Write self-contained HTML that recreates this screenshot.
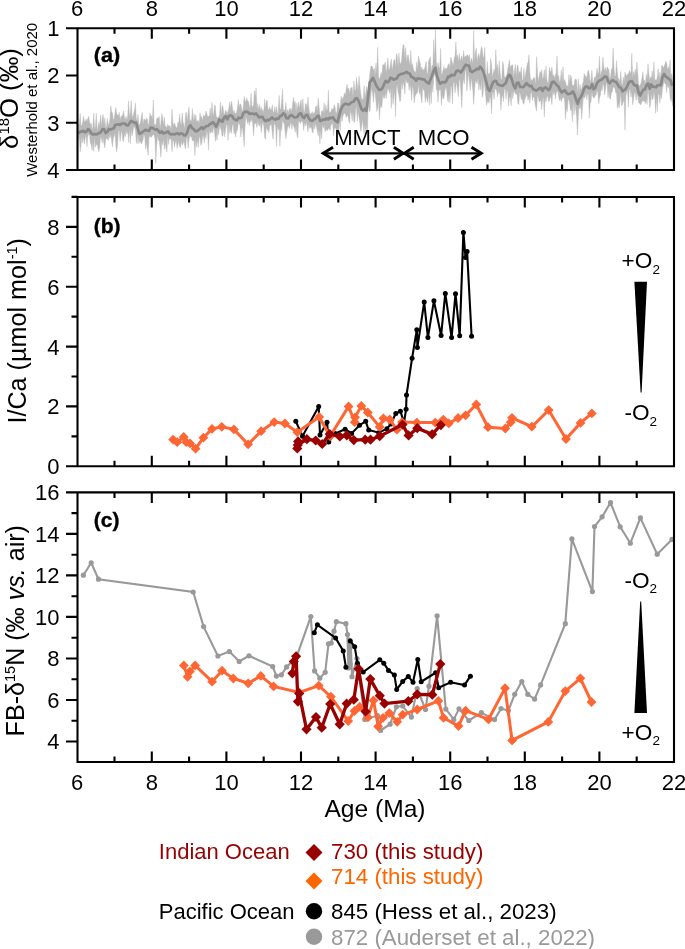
<!DOCTYPE html><html><head><meta charset="utf-8"><title>fig</title>
<style>html,body{margin:0;padding:0;background:#fff}svg{display:block;will-change:transform}text{font-family:"Liberation Sans",sans-serif}</style></head><body>
<svg width="685" height="949" viewBox="0 0 685 949">
<rect width="685" height="949" fill="#fff"/>
<path fill="#b9b9b9" stroke="#b9b9b9" stroke-width="0.4" stroke-linejoin="round" d="M78.5,124.6 L79.3,124.0 L80.2,113.5 L81.0,125.6 L81.9,125.8 L82.7,122.1 L83.6,116.2 L84.4,121.5 L85.3,121.4 L86.1,119.0 L87.0,121.7 L87.8,118.4 L88.7,116.3 L89.5,121.8 L90.4,124.3 L91.2,123.3 L92.1,130.0 L92.9,126.2 L93.8,113.2 L94.6,129.0 L95.5,126.3 L96.3,113.4 L97.2,131.2 L98.0,126.9 L98.9,122.1 L99.7,125.8 L100.6,114.9 L101.4,126.2 L102.3,117.6 L103.1,114.3 L104.0,125.1 L104.8,117.8 L105.7,128.3 L106.5,126.3 L107.4,118.3 L108.2,125.3 L109.1,123.6 L109.9,119.1 L110.8,105.8 L111.6,111.5 L112.5,113.0 L113.3,119.7 L114.2,118.6 L115.0,112.7 L115.9,107.4 L116.7,114.0 L117.6,114.8 L118.4,115.7 L119.3,112.4 L120.1,119.7 L121.0,116.4 L121.8,116.0 L122.7,114.9 L123.5,110.9 L124.4,117.0 L125.2,119.2 L126.1,116.4 L126.9,120.4 L127.8,114.9 L128.6,101.0 L129.5,117.2 L130.3,112.8 L131.2,100.7 L132.0,115.1 L132.9,117.2 L133.7,113.4 L134.6,109.3 L135.4,103.1 L136.3,118.8 L137.1,120.9 L138.0,114.3 L138.8,124.1 L139.7,125.0 L140.5,122.0 L141.4,116.3 L142.2,112.2 L143.1,125.0 L143.9,119.0 L144.8,119.3 L145.6,120.8 L146.5,118.2 L147.3,118.8 L148.2,125.8 L149.0,122.8 L149.9,112.9 L150.7,116.1 L151.6,115.7 L152.4,120.8 L153.3,100.0 L154.1,123.7 L155.0,124.8 L155.8,125.3 L156.7,119.0 L157.5,117.6 L158.4,119.0 L159.2,116.4 L160.1,128.6 L160.9,123.0 L161.8,113.5 L162.6,117.4 L163.5,125.5 L164.3,117.0 L165.2,126.3 L166.0,126.5 L166.9,127.4 L167.7,124.3 L168.6,126.1 L169.4,125.7 L170.3,126.8 L171.1,130.1 L172.0,109.2 L172.8,122.0 L173.7,125.9 L174.5,123.0 L175.4,125.7 L176.2,127.8 L177.1,127.8 L177.9,122.1 L178.8,123.0 L179.6,114.2 L180.5,123.5 L181.3,124.8 L182.2,113.0 L183.0,122.1 L183.9,124.4 L184.7,128.7 L185.6,113.4 L186.4,112.2 L187.3,121.8 L188.1,113.0 L189.0,107.1 L189.8,120.4 L190.7,120.2 L191.5,120.9 L192.4,108.6 L193.2,121.9 L194.1,113.8 L194.9,120.5 L195.8,114.8 L196.6,121.7 L197.5,120.7 L198.3,120.4 L199.2,123.4 L200.0,112.7 L200.9,117.8 L201.7,116.5 L202.6,121.0 L203.4,114.8 L204.3,116.2 L205.1,116.1 L206.0,111.0 L206.8,114.0 L207.7,116.5 L208.5,116.4 L209.4,115.5 L210.2,108.1 L211.1,117.4 L211.9,102.3 L212.8,112.3 L213.6,116.7 L214.5,105.7 L215.3,105.4 L216.2,116.3 L217.0,117.6 L217.9,117.8 L218.7,117.1 L219.6,114.4 L220.4,101.9 L221.3,115.3 L222.1,105.2 L223.0,107.2 L223.8,113.6 L224.7,114.2 L225.5,110.0 L226.4,111.6 L227.2,113.4 L228.1,111.1 L228.9,107.7 L229.8,101.8 L230.6,108.6 L231.5,101.1 L232.3,105.9 L233.2,112.9 L234.0,110.4 L234.9,113.1 L235.7,113.8 L236.6,112.5 L237.4,108.3 L238.3,99.7 L239.1,107.9 L240.0,103.8 L240.8,104.3 L241.7,108.6 L242.5,112.4 L243.4,105.0 L244.2,96.4 L245.1,100.5 L245.9,102.6 L246.8,97.9 L247.6,101.1 L248.5,101.2 L249.3,105.6 L250.2,108.8 L251.0,93.0 L251.9,106.1 L252.7,107.1 L253.6,104.5 L254.4,90.6 L255.3,96.1 L256.1,88.0 L257.0,109.1 L257.8,103.5 L258.7,110.2 L259.5,104.5 L260.4,110.7 L261.2,106.8 L262.1,111.6 L262.9,109.2 L263.8,112.7 L264.6,98.9 L265.5,108.3 L266.3,100.6 L267.2,100.4 L268.0,109.0 L268.9,110.1 L269.7,106.8 L270.6,109.9 L271.4,109.7 L272.3,104.8 L273.1,112.3 L274.0,112.6 L274.8,106.5 L275.7,113.1 L276.5,106.5 L277.4,113.6 L278.2,112.2 L279.1,95.3 L279.9,108.6 L280.8,109.8 L281.6,101.1 L282.5,89.1 L283.3,109.2 L284.2,110.3 L285.0,110.3 L285.9,102.5 L286.7,113.2 L287.6,109.6 L288.4,113.2 L289.3,108.4 L290.1,110.4 L291.0,108.2 L291.8,112.0 L292.7,102.9 L293.5,97.4 L294.4,103.7 L295.2,101.5 L296.1,112.3 L296.9,102.9 L297.8,109.7 L298.6,102.1 L299.5,108.8 L300.3,102.4 L301.2,99.8 L302.0,110.0 L302.9,98.5 L303.7,110.8 L304.6,112.3 L305.4,103.5 L306.3,104.1 L307.1,107.8 L308.0,96.9 L308.8,107.8 L309.7,112.7 L310.5,114.0 L311.4,113.6 L312.2,111.6 L313.1,114.6 L313.9,112.4 L314.8,113.1 L315.6,106.5 L316.5,106.0 L317.3,110.9 L318.2,97.9 L319.0,106.0 L319.9,114.5 L320.7,117.5 L321.6,111.1 L322.4,110.4 L323.3,113.0 L324.1,102.7 L325.0,113.2 L325.8,104.5 L326.7,109.9 L327.5,109.9 L328.4,90.1 L329.2,112.3 L330.1,112.2 L330.9,112.1 L331.8,108.4 L332.6,109.6 L333.5,108.5 L334.3,104.4 L335.2,108.0 L336.0,114.2 L336.9,111.5 L337.7,102.9 L338.6,103.2 L339.4,109.3 L340.3,104.7 L341.1,96.2 L342.0,99.7 L342.8,97.9 L343.7,96.4 L344.5,92.9 L345.4,95.2 L346.2,88.8 L347.1,84.3 L347.9,89.5 L348.8,87.9 L349.6,93.8 L350.5,88.5 L351.3,87.5 L352.2,87.4 L353.0,96.9 L353.9,80.9 L354.7,89.5 L355.6,91.1 L356.4,77.3 L357.3,84.6 L358.1,90.7 L359.0,75.8 L359.8,85.2 L360.7,93.1 L361.5,98.2 L362.4,99.6 L363.2,99.4 L364.1,85.7 L364.9,98.3 L365.8,92.8 L366.6,86.6 L367.5,94.0 L368.3,87.4 L369.2,79.9 L370.0,72.1 L370.9,66.2 L371.7,66.1 L372.6,66.7 L373.4,70.8 L374.3,68.3 L375.1,75.7 L376.0,63.1 L376.8,73.2 L377.7,47.2 L378.5,76.1 L379.4,79.5 L380.2,77.1 L381.1,72.4 L381.9,76.1 L382.8,64.3 L383.6,65.0 L384.5,64.5 L385.3,61.9 L386.2,73.3 L387.0,67.0 L387.9,57.9 L388.7,69.4 L389.6,69.5 L390.4,64.0 L391.3,59.1 L392.1,70.3 L393.0,65.3 L393.8,60.1 L394.7,59.4 L395.5,67.1 L396.4,53.5 L397.2,55.8 L398.1,67.4 L398.9,53.1 L399.8,62.8 L400.6,64.0 L401.5,60.9 L402.3,51.1 L403.2,44.5 L404.0,45.5 L404.9,59.3 L405.7,47.7 L406.6,63.6 L407.4,55.5 L408.3,54.9 L409.1,61.0 L410.0,65.2 L410.8,50.2 L411.7,66.4 L412.5,63.7 L413.4,69.0 L414.2,71.0 L415.1,72.4 L415.9,71.2 L416.8,61.9 L417.6,69.7 L418.5,56.0 L419.3,59.7 L420.2,62.9 L421.0,69.9 L421.9,67.1 L422.7,70.4 L423.6,69.5 L424.4,69.2 L425.3,65.8 L426.1,61.5 L427.0,73.7 L427.8,73.3 L428.7,60.4 L429.5,59.1 L430.4,56.8 L431.2,72.1 L432.1,65.2 L432.9,65.3 L433.8,39.7 L434.6,60.8 L435.5,30.0 L436.3,60.8 L437.2,69.0 L438.0,62.5 L438.9,67.3 L439.7,68.5 L440.6,48.4 L441.4,74.7 L442.3,73.5 L443.1,70.1 L444.0,66.5 L444.8,70.8 L445.7,67.9 L446.5,68.7 L447.4,67.4 L448.2,64.2 L449.1,63.7 L449.9,68.0 L450.8,57.1 L451.6,60.0 L452.5,63.4 L453.3,65.4 L454.2,58.5 L455.0,55.9 L455.9,42.0 L456.7,57.8 L457.6,55.1 L458.4,62.2 L459.3,53.3 L460.1,61.0 L461.0,58.4 L461.8,55.8 L462.7,61.8 L463.5,50.5 L464.4,57.9 L465.2,55.8 L466.1,57.3 L466.9,55.1 L467.8,55.1 L468.6,57.3 L469.5,54.6 L470.3,64.0 L471.2,58.2 L472.0,59.7 L472.9,64.0 L473.7,30.7 L474.6,62.2 L475.4,52.2 L476.3,47.9 L477.1,62.2 L478.0,56.3 L478.8,53.7 L479.7,59.1 L480.5,52.2 L481.4,46.4 L482.2,48.9 L483.1,57.3 L483.9,57.3 L484.8,47.3 L485.6,73.5 L486.5,76.0 L487.3,61.5 L488.2,75.1 L489.0,72.9 L489.9,74.0 L490.7,58.3 L491.6,64.7 L492.4,77.0 L493.3,73.2 L494.1,69.2 L495.0,72.0 L495.8,49.5 L496.7,69.0 L497.5,64.5 L498.4,76.7 L499.2,60.7 L500.1,72.6 L500.9,78.9 L501.8,79.5 L502.6,61.4 L503.5,64.4 L504.3,77.0 L505.2,77.2 L506.0,76.4 L506.9,74.2 L507.7,69.1 L508.6,64.2 L509.4,59.7 L510.3,68.4 L511.1,65.5 L512.0,65.2 L512.8,64.8 L513.7,77.8 L514.5,70.6 L515.4,64.3 L516.2,77.6 L517.1,66.7 L517.9,64.8 L518.8,73.9 L519.6,71.4 L520.5,72.7 L521.3,66.8 L522.2,79.9 L523.0,80.2 L523.9,68.3 L524.7,79.6 L525.6,73.5 L526.4,69.3 L527.3,63.7 L528.1,62.1 L529.0,54.8 L529.8,71.8 L530.7,81.0 L531.5,79.5 L532.4,81.0 L533.2,78.4 L534.1,77.2 L534.9,79.1 L535.8,84.1 L536.6,56.6 L537.5,72.6 L538.3,81.3 L539.2,76.5 L540.0,71.5 L540.9,73.3 L541.7,69.6 L542.6,80.1 L543.4,76.9 L544.3,69.5 L545.1,80.6 L546.0,66.2 L546.8,78.8 L547.7,83.4 L548.5,81.5 L549.4,67.3 L550.2,70.5 L551.1,72.4 L551.9,67.1 L552.8,76.3 L553.6,74.7 L554.5,77.7 L555.3,75.7 L556.2,72.4 L557.0,56.1 L557.9,76.9 L558.7,75.5 L559.6,82.4 L560.4,79.9 L561.3,69.9 L562.1,82.4 L563.0,66.6 L563.8,82.0 L564.7,79.5 L565.5,81.8 L566.4,85.8 L567.2,85.6 L568.1,87.1 L568.9,74.5 L569.8,82.7 L570.6,75.2 L571.5,77.7 L572.3,85.8 L573.2,85.0 L574.0,85.9 L574.9,79.4 L575.7,79.0 L576.6,79.9 L577.4,94.9 L578.3,78.6 L579.1,92.7 L580.0,84.2 L580.8,89.8 L581.7,88.7 L582.5,84.0 L583.4,81.6 L584.2,73.3 L585.1,77.1 L585.9,75.6 L586.8,78.8 L587.6,72.1 L588.5,70.0 L589.3,74.3 L590.2,82.3 L591.0,80.1 L591.9,70.1 L592.7,81.7 L593.6,82.4 L594.4,77.0 L595.3,77.9 L596.1,75.0 L597.0,68.1 L597.8,73.4 L598.7,73.1 L599.5,56.1 L600.4,76.3 L601.2,72.8 L602.1,69.5 L602.9,57.2 L603.8,67.0 L604.6,70.9 L605.5,67.4 L606.3,72.0 L607.2,66.8 L608.0,68.3 L608.9,70.0 L609.7,78.3 L610.6,77.2 L611.4,68.8 L612.3,69.6 L613.1,48.2 L614.0,67.4 L614.8,77.1 L615.7,74.9 L616.5,60.7 L617.4,73.1 L618.2,78.1 L619.1,79.6 L619.9,82.1 L620.8,71.4 L621.6,83.1 L622.5,85.5 L623.3,77.0 L624.2,81.6 L625.0,72.1 L625.9,75.0 L626.7,75.9 L627.6,73.9 L628.4,74.3 L629.3,70.6 L630.1,71.9 L631.0,73.8 L631.8,53.4 L632.7,78.2 L633.5,71.6 L634.4,76.3 L635.2,69.1 L636.1,74.2 L636.9,62.0 L637.8,74.0 L638.6,84.4 L639.5,86.0 L640.3,85.1 L641.2,82.3 L642.0,77.8 L642.9,71.7 L643.7,80.4 L644.6,80.3 L645.4,83.9 L646.3,74.2 L647.1,79.1 L648.0,63.6 L648.8,73.2 L649.7,80.7 L650.5,76.9 L651.4,78.7 L652.2,70.9 L653.1,79.7 L653.9,61.7 L654.8,80.2 L655.6,79.7 L656.5,80.3 L657.3,76.8 L658.2,68.5 L659.0,79.5 L659.9,72.1 L660.7,78.7 L661.6,65.8 L662.4,65.4 L663.3,67.7 L664.1,66.4 L665.0,64.1 L665.8,61.1 L666.7,63.3 L667.5,70.0 L668.4,66.7 L669.2,70.2 L670.1,59.8 L670.9,75.7 L671.8,73.5 L672.6,82.2 L673.5,69.9 L673.5,94.9 L672.6,106.1 L671.8,97.9 L670.9,101.4 L670.1,97.9 L669.2,85.7 L668.4,87.7 L667.5,83.8 L666.7,92.6 L665.8,84.0 L665.0,83.7 L664.1,81.6 L663.3,85.0 L662.4,89.1 L661.6,98.8 L660.7,93.4 L659.9,103.2 L659.0,94.3 L658.2,94.0 L657.3,111.8 L656.5,97.8 L655.6,113.4 L654.8,97.7 L653.9,91.6 L653.1,98.8 L652.2,99.8 L651.4,93.4 L650.5,104.6 L649.7,107.8 L648.8,95.4 L648.0,89.7 L647.1,104.5 L646.3,98.9 L645.4,103.6 L644.6,101.8 L643.7,100.9 L642.9,100.5 L642.0,101.8 L641.2,103.7 L640.3,105.0 L639.5,103.2 L638.6,102.8 L637.8,97.6 L636.9,93.3 L636.1,100.5 L635.2,92.7 L634.4,92.8 L633.5,100.0 L632.7,104.9 L631.8,91.4 L631.0,97.0 L630.1,88.4 L629.3,91.0 L628.4,107.1 L627.6,91.5 L626.7,92.5 L625.9,95.8 L625.0,130.2 L624.2,100.4 L623.3,101.6 L622.5,104.6 L621.6,106.1 L620.8,92.9 L619.9,102.4 L619.1,108.0 L618.2,103.2 L617.4,108.4 L616.5,92.7 L615.7,92.9 L614.8,87.7 L614.0,87.4 L613.1,86.9 L612.3,92.1 L611.4,92.2 L610.6,98.7 L609.7,98.8 L608.9,89.8 L608.0,97.7 L607.2,85.6 L606.3,82.0 L605.5,89.7 L604.6,95.0 L603.8,85.4 L602.9,83.9 L602.1,90.7 L601.2,88.7 L600.4,95.0 L599.5,98.2 L598.7,103.8 L597.8,92.2 L597.0,90.4 L596.1,95.2 L595.3,95.3 L594.4,97.9 L593.6,98.0 L592.7,96.3 L591.9,91.9 L591.0,101.8 L590.2,103.2 L589.3,118.0 L588.5,94.4 L587.6,94.1 L586.8,99.9 L585.9,92.9 L585.1,96.7 L584.2,98.4 L583.4,97.1 L582.5,107.4 L581.7,119.4 L580.8,104.1 L580.0,109.0 L579.1,106.2 L578.3,116.8 L577.4,135.0 L576.6,116.1 L575.7,109.4 L574.9,102.8 L574.0,115.1 L573.2,98.5 L572.3,121.8 L571.5,107.9 L570.6,110.9 L569.8,104.6 L568.9,99.5 L568.1,100.0 L567.2,111.7 L566.4,107.8 L565.5,119.2 L564.7,102.0 L563.8,96.5 L563.0,98.1 L562.1,98.4 L561.3,101.8 L560.4,98.2 L559.6,100.7 L558.7,97.2 L557.9,91.7 L557.0,91.1 L556.2,93.5 L555.3,99.2 L554.5,90.9 L553.6,94.6 L552.8,91.6 L551.9,104.7 L551.1,98.3 L550.2,96.3 L549.4,100.8 L548.5,101.7 L547.7,95.7 L546.8,96.8 L546.0,101.9 L545.1,97.6 L544.3,117.1 L543.4,96.6 L542.6,100.1 L541.7,109.6 L540.9,100.0 L540.0,101.5 L539.2,101.9 L538.3,97.6 L537.5,94.8 L536.6,111.0 L535.8,107.8 L534.9,102.9 L534.1,96.7 L533.2,96.9 L532.4,100.8 L531.5,91.6 L530.7,93.8 L529.8,103.1 L529.0,96.8 L528.1,100.2 L527.3,95.9 L526.4,94.8 L525.6,97.6 L524.7,99.4 L523.9,104.3 L523.0,103.0 L522.2,98.5 L521.3,99.7 L520.5,94.8 L519.6,92.0 L518.8,104.6 L517.9,103.6 L517.1,95.6 L516.2,93.3 L515.4,94.2 L514.5,91.5 L513.7,91.9 L512.8,98.7 L512.0,90.0 L511.1,105.8 L510.3,96.5 L509.4,97.8 L508.6,106.3 L507.7,92.1 L506.9,89.9 L506.0,99.4 L505.2,88.7 L504.3,89.4 L503.5,101.7 L502.6,94.5 L501.8,97.8 L500.9,109.9 L500.1,94.8 L499.2,92.6 L498.4,91.8 L497.5,96.7 L496.7,90.8 L495.8,89.3 L495.0,88.4 L494.1,99.5 L493.3,92.2 L492.4,93.0 L491.6,113.7 L490.7,98.4 L489.9,96.5 L489.0,103.3 L488.2,100.8 L487.3,102.5 L486.5,105.2 L485.6,95.1 L484.8,87.9 L483.9,78.8 L483.1,94.2 L482.2,97.4 L481.4,80.0 L480.5,89.9 L479.7,82.8 L478.8,90.3 L478.0,77.6 L477.1,83.8 L476.3,81.6 L475.4,80.7 L474.6,89.6 L473.7,104.4 L472.9,91.0 L472.0,83.0 L471.2,78.3 L470.3,90.5 L469.5,83.4 L468.6,72.9 L467.8,79.8 L466.9,91.1 L466.1,71.2 L465.2,70.7 L464.4,84.0 L463.5,78.4 L462.7,84.8 L461.8,107.7 L461.0,93.1 L460.1,80.7 L459.3,79.2 L458.4,96.7 L457.6,91.0 L456.7,82.4 L455.9,86.3 L455.0,93.0 L454.2,82.3 L453.3,83.1 L452.5,103.9 L451.6,85.9 L450.8,86.5 L449.9,102.7 L449.1,93.5 L448.2,102.0 L447.4,99.3 L446.5,88.4 L445.7,87.7 L444.8,91.6 L444.0,98.0 L443.1,99.1 L442.3,94.3 L441.4,105.7 L440.6,89.6 L439.7,90.0 L438.9,90.6 L438.0,102.2 L437.2,90.3 L436.3,89.8 L435.5,76.0 L434.6,74.3 L433.8,77.1 L432.9,92.2 L432.1,83.2 L431.2,103.7 L430.4,88.8 L429.5,105.1 L428.7,91.2 L427.8,102.4 L427.0,98.9 L426.1,95.9 L425.3,102.4 L424.4,90.9 L423.6,90.3 L422.7,87.3 L421.9,103.1 L421.0,97.6 L420.2,90.7 L419.3,94.3 L418.5,84.0 L417.6,92.3 L416.8,93.3 L415.9,94.6 L415.1,96.0 L414.2,103.0 L413.4,90.3 L412.5,84.9 L411.7,100.5 L410.8,89.2 L410.0,84.2 L409.1,90.4 L408.3,81.5 L407.4,83.3 L406.6,82.1 L405.7,79.0 L404.9,94.3 L404.0,85.7 L403.2,81.6 L402.3,89.1 L401.5,81.8 L400.6,100.7 L399.8,101.6 L398.9,95.4 L398.1,92.6 L397.2,84.4 L396.4,88.3 L395.5,116.8 L394.7,90.3 L393.8,97.7 L393.0,104.4 L392.1,87.5 L391.3,108.4 L390.4,87.6 L389.6,93.2 L388.7,90.0 L387.9,87.9 L387.0,92.3 L386.2,98.6 L385.3,92.5 L384.5,98.2 L383.6,98.3 L382.8,93.7 L381.9,107.9 L381.1,105.1 L380.2,107.4 L379.4,119.8 L378.5,99.5 L377.7,108.6 L376.8,111.6 L376.0,102.6 L375.1,93.2 L374.3,91.3 L373.4,102.7 L372.6,92.8 L371.7,88.0 L370.9,95.0 L370.0,111.4 L369.2,111.2 L368.3,100.1 L367.5,131.2 L366.6,124.6 L365.8,137.6 L364.9,123.4 L364.1,134.3 L363.2,125.8 L362.4,119.1 L361.5,129.3 L360.7,131.5 L359.8,122.7 L359.0,117.6 L358.1,111.8 L357.3,121.3 L356.4,104.9 L355.6,110.7 L354.7,121.9 L353.9,122.6 L353.0,111.0 L352.2,121.0 L351.3,114.0 L350.5,109.6 L349.6,123.4 L348.8,121.2 L347.9,115.1 L347.1,116.1 L346.2,117.5 L345.4,113.9 L344.5,113.3 L343.7,114.2 L342.8,116.4 L342.0,121.6 L341.1,114.4 L340.3,130.3 L339.4,121.0 L338.6,134.9 L337.7,133.3 L336.9,130.6 L336.0,129.2 L335.2,127.4 L334.3,129.1 L333.5,135.8 L332.6,122.4 L331.8,123.9 L330.9,125.4 L330.1,130.5 L329.2,128.8 L328.4,127.9 L327.5,131.0 L326.7,129.0 L325.8,130.3 L325.0,131.8 L324.1,124.8 L323.3,128.2 L322.4,124.4 L321.6,139.0 L320.7,129.8 L319.9,143.9 L319.0,128.9 L318.2,136.1 L317.3,130.7 L316.5,127.2 L315.6,123.0 L314.8,128.9 L313.9,123.1 L313.1,133.1 L312.2,131.6 L311.4,127.6 L310.5,127.2 L309.7,128.6 L308.8,123.0 L308.0,132.2 L307.1,126.3 L306.3,121.3 L305.4,126.0 L304.6,122.6 L303.7,130.7 L302.9,122.2 L302.0,121.5 L301.2,121.1 L300.3,123.5 L299.5,121.7 L298.6,120.8 L297.8,138.0 L296.9,134.9 L296.1,124.6 L295.2,132.3 L294.4,128.3 L293.5,126.3 L292.7,123.0 L291.8,129.3 L291.0,122.3 L290.1,125.0 L289.3,128.4 L288.4,125.2 L287.6,127.8 L286.7,133.0 L285.9,138.7 L285.0,130.8 L284.2,123.5 L283.3,122.5 L282.5,119.4 L281.6,130.5 L280.8,128.5 L279.9,146.4 L279.1,128.1 L278.2,129.9 L277.4,125.6 L276.5,146.7 L275.7,127.3 L274.8,123.1 L274.0,125.4 L273.1,139.3 L272.3,133.8 L271.4,123.5 L270.6,125.6 L269.7,125.3 L268.9,132.9 L268.0,128.7 L267.2,130.4 L266.3,126.4 L265.5,139.4 L264.6,137.0 L263.8,125.9 L262.9,121.9 L262.1,125.6 L261.2,132.7 L260.4,122.5 L259.5,126.3 L258.7,125.0 L257.8,120.7 L257.0,127.6 L256.1,123.3 L255.3,123.5 L254.4,123.2 L253.6,136.2 L252.7,124.1 L251.9,118.4 L251.0,122.1 L250.2,119.8 L249.3,125.8 L248.5,120.2 L247.6,123.7 L246.8,119.4 L245.9,116.3 L245.1,125.9 L244.2,146.6 L243.4,137.6 L242.5,128.3 L241.7,128.2 L240.8,136.9 L240.0,125.7 L239.1,123.6 L238.3,123.6 L237.4,130.7 L236.6,130.1 L235.7,137.2 L234.9,131.5 L234.0,134.0 L233.2,124.4 L232.3,125.2 L231.5,133.3 L230.6,129.6 L229.8,133.2 L228.9,123.0 L228.1,140.6 L227.2,125.8 L226.4,123.7 L225.5,130.0 L224.7,136.9 L223.8,127.5 L223.0,135.8 L222.1,136.1 L221.3,130.1 L220.4,128.2 L219.6,124.6 L218.7,135.2 L217.9,128.2 L217.0,140.3 L216.2,133.8 L215.3,141.5 L214.5,131.4 L213.6,126.6 L212.8,133.1 L211.9,130.7 L211.1,132.2 L210.2,133.3 L209.4,129.1 L208.5,150.2 L207.7,135.5 L206.8,130.1 L206.0,138.7 L205.1,134.7 L204.3,143.1 L203.4,136.1 L202.6,136.8 L201.7,143.6 L200.9,145.4 L200.0,137.9 L199.2,136.2 L198.3,147.5 L197.5,139.5 L196.6,147.2 L195.8,137.7 L194.9,155.6 L194.1,141.8 L193.2,139.9 L192.4,141.0 L191.5,136.8 L190.7,137.1 L189.8,135.3 L189.0,140.7 L188.1,148.0 L187.3,137.5 L186.4,139.0 L185.6,149.2 L184.7,145.9 L183.9,140.8 L183.0,144.1 L182.2,145.2 L181.3,141.1 L180.5,147.2 L179.6,147.1 L178.8,140.9 L177.9,144.9 L177.1,148.4 L176.2,140.4 L175.4,142.4 L174.5,146.9 L173.7,140.9 L172.8,140.1 L172.0,151.8 L171.1,138.7 L170.3,139.5 L169.4,138.0 L168.6,144.6 L167.7,135.8 L166.9,152.0 L166.0,148.2 L165.2,143.2 L164.3,149.6 L163.5,139.0 L162.6,144.9 L161.8,140.9 L160.9,157.2 L160.1,148.8 L159.2,140.5 L158.4,140.5 L157.5,135.6 L156.7,144.9 L155.8,163.2 L155.0,139.0 L154.1,135.2 L153.3,134.6 L152.4,135.4 L151.6,137.3 L150.7,136.1 L149.9,137.6 L149.0,136.1 L148.2,155.4 L147.3,149.3 L146.5,143.0 L145.6,149.0 L144.8,137.0 L143.9,134.6 L143.1,139.3 L142.2,142.1 L141.4,144.2 L140.5,141.7 L139.7,140.9 L138.8,143.6 L138.0,133.5 L137.1,143.8 L136.3,141.8 L135.4,129.7 L134.6,127.1 L133.7,126.8 L132.9,132.0 L132.0,135.9 L131.2,127.8 L130.3,144.2 L129.5,127.7 L128.6,142.6 L127.8,132.1 L126.9,133.9 L126.1,130.2 L125.2,136.9 L124.4,133.3 L123.5,141.7 L122.7,140.0 L121.8,130.6 L121.0,133.6 L120.1,141.7 L119.3,130.5 L118.4,131.3 L117.6,144.2 L116.7,151.9 L115.9,145.8 L115.0,132.5 L114.2,136.3 L113.3,137.7 L112.5,146.9 L111.6,141.2 L110.8,133.7 L109.9,138.3 L109.1,134.8 L108.2,140.4 L107.4,138.8 L106.5,138.5 L105.7,139.1 L104.8,147.8 L104.0,144.2 L103.1,137.0 L102.3,143.0 L101.4,138.4 L100.6,136.3 L99.7,147.2 L98.9,151.7 L98.0,148.2 L97.2,144.3 L96.3,144.7 L95.5,147.2 L94.6,137.6 L93.8,151.5 L92.9,142.3 L92.1,150.5 L91.2,144.7 L90.4,143.4 L89.5,134.8 L88.7,134.6 L87.8,136.0 L87.0,146.7 L86.1,136.1 L85.3,137.2 L84.4,144.1 L83.6,137.1 L82.7,143.1 L81.9,135.5 L81.0,146.1 L80.2,151.7 L79.3,136.2 L78.5,139.9Z"/>
<path fill="none" stroke="#8a8a8a" stroke-width="2.7" stroke-linejoin="round" d="M78.5,133.4 L80.1,131.7 L81.7,131.7 L83.3,130.7 L84.9,132.4 L86.5,131.6 L88.1,129.1 L89.7,130.5 L91.3,133.2 L92.9,134.6 L94.5,133.9 L96.1,134.5 L97.7,133.8 L99.3,133.1 L100.9,132.1 L102.5,129.2 L104.1,129.3 L105.7,133.1 L107.3,132.0 L108.9,129.0 L110.5,129.6 L112.1,128.9 L113.7,128.4 L115.3,124.9 L116.9,124.7 L118.5,124.3 L120.1,125.1 L121.7,123.6 L123.3,123.5 L124.9,123.5 L126.5,125.3 L128.1,125.3 L129.7,123.0 L131.3,120.8 L132.9,121.8 L134.5,122.9 L136.1,122.7 L137.7,128.0 L139.3,133.9 L140.9,133.3 L142.5,132.0 L144.1,130.7 L145.7,129.8 L147.3,130.4 L148.9,131.1 L150.5,127.9 L152.1,127.7 L153.7,128.7 L155.3,129.6 L156.9,129.2 L158.5,131.0 L160.1,132.8 L161.7,131.4 L163.3,133.4 L164.9,132.9 L166.5,132.3 L168.1,131.4 L169.7,133.8 L171.3,134.5 L172.9,134.0 L174.5,134.5 L176.1,133.6 L177.7,133.3 L179.3,134.4 L180.9,133.3 L182.5,133.8 L184.1,135.4 L185.7,135.1 L187.3,132.1 L188.9,127.0 L190.5,125.2 L192.1,128.1 L193.7,129.1 L195.3,131.1 L196.9,131.1 L198.5,130.1 L200.1,128.5 L201.7,127.2 L203.3,129.0 L204.9,127.3 L206.5,126.0 L208.1,125.9 L209.7,124.3 L211.3,123.5 L212.9,122.2 L214.5,124.0 L216.1,126.8 L217.7,123.7 L219.3,119.4 L220.9,120.8 L222.5,121.7 L224.1,117.5 L225.7,116.2 L227.3,119.3 L228.9,116.0 L230.5,115.3 L232.1,115.9 L233.7,118.9 L235.3,119.7 L236.9,120.4 L238.5,117.7 L240.1,118.2 L241.7,117.6 L243.3,113.1 L244.9,111.8 L246.5,111.6 L248.1,112.3 L249.7,114.0 L251.3,113.5 L252.9,113.6 L254.5,114.4 L256.1,113.5 L257.7,115.7 L259.3,117.5 L260.9,116.9 L262.5,116.9 L264.1,119.8 L265.7,121.2 L267.3,119.8 L268.9,120.4 L270.5,118.8 L272.1,117.4 L273.7,118.9 L275.3,119.6 L276.9,118.4 L278.5,118.9 L280.1,116.1 L281.7,115.6 L283.3,113.3 L284.9,114.4 L286.5,118.2 L288.1,118.5 L289.7,116.2 L291.3,115.0 L292.9,116.2 L294.5,117.5 L296.1,117.4 L297.7,116.5 L299.3,113.8 L300.9,113.4 L302.5,116.7 L304.1,118.1 L305.7,115.3 L307.3,114.8 L308.9,118.3 L310.5,120.3 L312.1,120.9 L313.7,119.5 L315.3,118.7 L316.9,116.6 L318.5,115.7 L320.1,121.1 L321.7,120.4 L323.3,119.4 L324.9,119.7 L326.5,118.4 L328.1,119.5 L329.7,117.8 L331.3,118.1 L332.9,117.3 L334.5,119.8 L336.1,121.3 L337.7,122.3 L339.3,114.9 L340.9,109.7 L342.5,106.1 L344.1,104.5 L345.7,103.6 L347.3,104.4 L348.9,104.5 L350.5,103.2 L352.1,102.0 L353.7,101.7 L355.3,98.7 L356.9,98.1 L358.5,100.7 L360.1,105.3 L361.7,109.4 L363.3,110.8 L364.9,108.7 L366.5,110.9 L368.1,97.1 L369.7,82.3 L371.3,80.5 L372.9,77.9 L374.5,81.0 L376.1,85.2 L377.7,87.7 L379.3,90.0 L380.9,89.7 L382.5,88.0 L384.1,84.2 L385.7,80.8 L387.3,82.3 L388.9,81.4 L390.5,77.7 L392.1,78.3 L393.7,79.7 L395.3,79.1 L396.9,78.4 L398.5,75.4 L400.1,74.4 L401.7,73.8 L403.3,73.6 L404.9,72.9 L406.5,71.9 L408.1,73.2 L409.7,73.6 L411.3,76.8 L412.9,77.5 L414.5,78.5 L416.1,80.7 L417.7,78.2 L419.3,78.7 L420.9,78.9 L422.5,79.4 L424.1,79.4 L425.7,81.2 L427.3,82.6 L428.9,83.6 L430.5,79.6 L432.1,75.4 L433.7,70.7 L435.3,67.6 L436.9,75.7 L438.5,80.4 L440.1,83.8 L441.7,82.4 L443.3,82.2 L444.9,82.5 L446.5,80.8 L448.1,76.6 L449.7,76.9 L451.3,74.9 L452.9,75.3 L454.5,75.2 L456.1,71.5 L457.7,70.5 L459.3,71.0 L460.9,72.5 L462.5,70.3 L464.1,67.2 L465.7,64.6 L467.3,65.5 L468.9,65.5 L470.5,71.0 L472.1,72.2 L473.7,70.9 L475.3,70.3 L476.9,68.8 L478.5,69.3 L480.1,66.7 L481.7,68.6 L483.3,71.4 L484.9,76.8 L486.5,82.9 L488.1,89.4 L489.7,91.0 L491.3,86.7 L492.9,82.5 L494.5,80.9 L496.1,81.0 L497.7,84.3 L499.3,85.1 L500.9,85.5 L502.5,85.9 L504.1,84.5 L505.7,83.3 L507.3,78.7 L508.9,74.8 L510.5,75.7 L512.1,80.5 L513.7,85.6 L515.3,88.3 L516.9,82.9 L518.5,82.6 L520.1,87.0 L521.7,87.0 L523.3,87.2 L524.9,85.3 L526.5,83.1 L528.1,84.9 L529.7,86.2 L531.3,85.7 L532.9,88.8 L534.5,89.8 L536.1,90.6 L537.7,89.7 L539.3,88.5 L540.9,87.8 L542.5,91.0 L544.1,87.9 L545.7,87.3 L547.3,89.1 L548.9,90.0 L550.5,87.0 L552.1,82.0 L553.7,81.6 L555.3,83.2 L556.9,85.3 L558.5,86.5 L560.1,90.1 L561.7,92.4 L563.3,91.1 L564.9,90.2 L566.5,92.9 L568.1,94.2 L569.7,93.8 L571.3,93.2 L572.9,91.4 L574.5,94.7 L576.1,99.5 L577.7,103.8 L579.3,99.0 L580.9,97.0 L582.5,93.6 L584.1,88.8 L585.7,86.5 L587.3,86.5 L588.9,88.4 L590.5,88.1 L592.1,84.2 L593.7,89.3 L595.3,87.8 L596.9,83.6 L598.5,81.3 L600.1,80.2 L601.7,79.6 L603.3,77.9 L604.9,76.5 L606.5,76.8 L608.1,81.4 L609.7,83.2 L611.3,80.9 L612.9,80.3 L614.5,81.5 L616.1,81.9 L617.7,84.4 L619.3,87.2 L620.9,87.8 L622.5,91.3 L624.1,90.2 L625.7,89.1 L627.3,86.0 L628.9,82.4 L630.5,81.1 L632.1,81.4 L633.7,84.3 L635.3,85.7 L636.9,85.4 L638.5,92.3 L640.1,95.5 L641.7,92.5 L643.3,89.9 L644.9,89.4 L646.5,85.2 L648.1,83.5 L649.7,88.7 L651.3,84.4 L652.9,86.7 L654.5,86.9 L656.1,87.3 L657.7,85.0 L659.3,85.1 L660.9,85.3 L662.5,77.0 L664.1,74.0 L665.7,76.5 L667.3,77.7 L668.9,78.9 L670.5,80.1 L672.1,85.9"/>
<polyline fill="none" stroke="#000" stroke-width="2.1" stroke-linejoin="miter" stroke-miterlimit="3" stroke-linecap="round" points="295.8,421.3 302.5,436.2 318.7,406.4 320.0,434.9 327.0,422.2 328.8,441.9 335.0,433.5 345.1,429.2 351.6,433.5 359.5,425.2 365.7,421.3 368.7,430.0 378.8,432.7 386.9,428.7 391.0,423.9 395.8,413.4 400.4,411.3 404.0,422.6 406.1,409.3 406.5,395.0 412.1,358.2 416.8,329.7 417.4,347.4 424.2,302.1 427.9,337.6 433.9,300.8 441.1,335.5 445.3,293.4 451.6,337.6 455.5,293.7 459.7,335.8 463.4,232.4 465.5,257.4 467.1,251.6 471.6,336.3"/>
<g fill="#000"><circle cx="295.8" cy="421.3" r="2.5"/><circle cx="302.5" cy="436.2" r="2.5"/><circle cx="318.7" cy="406.4" r="2.5"/><circle cx="320.0" cy="434.9" r="2.5"/><circle cx="327.0" cy="422.2" r="2.5"/><circle cx="328.8" cy="441.9" r="2.5"/><circle cx="335.0" cy="433.5" r="2.5"/><circle cx="345.1" cy="429.2" r="2.5"/><circle cx="351.6" cy="433.5" r="2.5"/><circle cx="359.5" cy="425.2" r="2.5"/><circle cx="365.7" cy="421.3" r="2.5"/><circle cx="368.7" cy="430.0" r="2.5"/><circle cx="378.8" cy="432.7" r="2.5"/><circle cx="386.9" cy="428.7" r="2.5"/><circle cx="391.0" cy="423.9" r="2.5"/><circle cx="395.8" cy="413.4" r="2.5"/><circle cx="400.4" cy="411.3" r="2.5"/><circle cx="404.0" cy="422.6" r="2.5"/><circle cx="406.1" cy="409.3" r="2.5"/><circle cx="406.5" cy="395.0" r="2.5"/><circle cx="412.1" cy="358.2" r="2.5"/><circle cx="416.8" cy="329.7" r="2.5"/><circle cx="417.4" cy="347.4" r="2.5"/><circle cx="424.2" cy="302.1" r="2.5"/><circle cx="427.9" cy="337.6" r="2.5"/><circle cx="433.9" cy="300.8" r="2.5"/><circle cx="441.1" cy="335.5" r="2.5"/><circle cx="445.3" cy="293.4" r="2.5"/><circle cx="451.6" cy="337.6" r="2.5"/><circle cx="455.5" cy="293.7" r="2.5"/><circle cx="459.7" cy="335.8" r="2.5"/><circle cx="463.4" cy="232.4" r="2.5"/><circle cx="465.5" cy="257.4" r="2.5"/><circle cx="467.1" cy="251.6" r="2.5"/><circle cx="471.6" cy="336.3" r="2.5"/></g>
<polyline fill="none" stroke="#ff6633" stroke-width="3.0" stroke-linejoin="miter" stroke-miterlimit="3" stroke-linecap="round" points="173.1,439.6 177.2,442.2 183.7,437.0 186.3,442.2 190.1,443.4 195.6,448.7 203.4,437.7 212.0,428.9 221.8,426.8 233.9,429.4 248.1,444.3 261.1,431.2 274.2,422.1 284.9,423.5 297.3,432.2 319.2,416.9 330.1,436.3 348.6,406.4 354.7,422.2 355.1,417.3 361.3,405.9 367.8,412.5 379.7,427.0 383.4,418.3 389.7,419.5 396.9,429.7 402.0,422.1 416.8,422.6 435.2,422.6 443.3,419.6 448.8,423.4 458.1,418.0 465.6,415.3 476.3,404.5 488.0,427.2 505.3,428.5 510.7,422.3 512.0,417.8 531.8,426.7 548.7,410.1 566.0,439.0 580.5,422.9 591.8,413.4"/>
<g fill="#ff6633"><path d="M168.2,439.6 L173.1,434.7 L178.0,439.6 L173.1,444.5Z"/><path d="M172.3,442.2 L177.2,437.3 L182.1,442.2 L177.2,447.1Z"/><path d="M178.8,437.0 L183.7,432.1 L188.6,437.0 L183.7,441.9Z"/><path d="M181.4,442.2 L186.3,437.3 L191.2,442.2 L186.3,447.1Z"/><path d="M185.2,443.4 L190.1,438.5 L195.0,443.4 L190.1,448.3Z"/><path d="M190.7,448.7 L195.6,443.8 L200.5,448.7 L195.6,453.6Z"/><path d="M198.5,437.7 L203.4,432.8 L208.3,437.7 L203.4,442.6Z"/><path d="M207.1,428.9 L212.0,424.0 L216.9,428.9 L212.0,433.8Z"/><path d="M216.9,426.8 L221.8,421.9 L226.7,426.8 L221.8,431.7Z"/><path d="M229.0,429.4 L233.9,424.5 L238.8,429.4 L233.9,434.3Z"/><path d="M243.2,444.3 L248.1,439.4 L253.0,444.3 L248.1,449.2Z"/><path d="M256.2,431.2 L261.1,426.3 L266.0,431.2 L261.1,436.1Z"/><path d="M269.3,422.1 L274.2,417.2 L279.1,422.1 L274.2,427.0Z"/><path d="M280.0,423.5 L284.9,418.6 L289.8,423.5 L284.9,428.4Z"/><path d="M292.4,432.2 L297.3,427.3 L302.2,432.2 L297.3,437.1Z"/><path d="M314.3,416.9 L319.2,412.0 L324.1,416.9 L319.2,421.8Z"/><path d="M325.2,436.3 L330.1,431.4 L335.0,436.3 L330.1,441.2Z"/><path d="M343.7,406.4 L348.6,401.5 L353.5,406.4 L348.6,411.3Z"/><path d="M349.8,422.2 L354.7,417.3 L359.6,422.2 L354.7,427.1Z"/><path d="M350.2,417.3 L355.1,412.4 L360.0,417.3 L355.1,422.2Z"/><path d="M356.4,405.9 L361.3,401.0 L366.2,405.9 L361.3,410.8Z"/><path d="M362.9,412.5 L367.8,407.6 L372.7,412.5 L367.8,417.4Z"/><path d="M374.8,427.0 L379.7,422.1 L384.6,427.0 L379.7,431.9Z"/><path d="M378.5,418.3 L383.4,413.4 L388.3,418.3 L383.4,423.2Z"/><path d="M384.8,419.5 L389.7,414.6 L394.6,419.5 L389.7,424.4Z"/><path d="M392.0,429.7 L396.9,424.8 L401.8,429.7 L396.9,434.6Z"/><path d="M397.1,422.1 L402.0,417.2 L406.9,422.1 L402.0,427.0Z"/><path d="M411.9,422.6 L416.8,417.7 L421.7,422.6 L416.8,427.5Z"/><path d="M430.3,422.6 L435.2,417.7 L440.1,422.6 L435.2,427.5Z"/><path d="M438.4,419.6 L443.3,414.7 L448.2,419.6 L443.3,424.5Z"/><path d="M443.9,423.4 L448.8,418.5 L453.7,423.4 L448.8,428.3Z"/><path d="M453.2,418.0 L458.1,413.1 L463.0,418.0 L458.1,422.9Z"/><path d="M460.7,415.3 L465.6,410.4 L470.5,415.3 L465.6,420.2Z"/><path d="M471.4,404.5 L476.3,399.6 L481.2,404.5 L476.3,409.4Z"/><path d="M483.1,427.2 L488.0,422.3 L492.9,427.2 L488.0,432.1Z"/><path d="M500.4,428.5 L505.3,423.6 L510.2,428.5 L505.3,433.4Z"/><path d="M505.8,422.3 L510.7,417.4 L515.6,422.3 L510.7,427.2Z"/><path d="M507.1,417.8 L512.0,412.9 L516.9,417.8 L512.0,422.7Z"/><path d="M526.9,426.7 L531.8,421.8 L536.7,426.7 L531.8,431.6Z"/><path d="M543.8,410.1 L548.7,405.2 L553.6,410.1 L548.7,415.0Z"/><path d="M561.1,439.0 L566.0,434.1 L570.9,439.0 L566.0,443.9Z"/><path d="M575.6,422.9 L580.5,418.0 L585.4,422.9 L580.5,427.8Z"/><path d="M586.9,413.4 L591.8,408.5 L596.7,413.4 L591.8,418.3Z"/></g>
<polyline fill="none" stroke="#990000" stroke-width="3.3" stroke-linejoin="miter" stroke-miterlimit="3" stroke-linecap="round" points="298.1,441.4 297.3,448.4 297.8,445.0 306.9,439.2 315.7,440.5 322.2,444.0 329.7,434.0 339.8,436.5 346.8,435.3 353.8,440.1 365.2,439.7 370.5,439.7 379.7,436.2 402.5,424.6 408.6,435.4 417.3,428.2 432.1,434.3 440.8,425.1"/>
<g fill="#990000"><path d="M293.0,441.4 L298.1,436.3 L303.2,441.4 L298.1,446.5Z"/><path d="M292.2,448.4 L297.3,443.3 L302.4,448.4 L297.3,453.5Z"/><path d="M292.7,445.0 L297.8,439.9 L302.9,445.0 L297.8,450.1Z"/><path d="M301.8,439.2 L306.9,434.1 L312.0,439.2 L306.9,444.3Z"/><path d="M310.6,440.5 L315.7,435.4 L320.8,440.5 L315.7,445.6Z"/><path d="M317.1,444.0 L322.2,438.9 L327.3,444.0 L322.2,449.1Z"/><path d="M324.6,434.0 L329.7,428.9 L334.8,434.0 L329.7,439.1Z"/><path d="M334.7,436.5 L339.8,431.4 L344.9,436.5 L339.8,441.6Z"/><path d="M341.7,435.3 L346.8,430.2 L351.9,435.3 L346.8,440.4Z"/><path d="M348.7,440.1 L353.8,435.0 L358.9,440.1 L353.8,445.2Z"/><path d="M360.1,439.7 L365.2,434.6 L370.3,439.7 L365.2,444.8Z"/><path d="M365.4,439.7 L370.5,434.6 L375.6,439.7 L370.5,444.8Z"/><path d="M374.6,436.2 L379.7,431.1 L384.8,436.2 L379.7,441.3Z"/><path d="M397.4,424.6 L402.5,419.5 L407.6,424.6 L402.5,429.7Z"/><path d="M403.5,435.4 L408.6,430.3 L413.7,435.4 L408.6,440.5Z"/><path d="M412.2,428.2 L417.3,423.1 L422.4,428.2 L417.3,433.3Z"/><path d="M427.0,434.3 L432.1,429.2 L437.2,434.3 L432.1,439.4Z"/><path d="M435.7,425.1 L440.8,420.0 L445.9,425.1 L440.8,430.2Z"/></g>
<polyline fill="none" stroke="#999999" stroke-width="2.1" stroke-linejoin="miter" stroke-miterlimit="3" stroke-linecap="round" points="83.4,575.2 91.2,562.8 98.5,579.2 193.2,592.0 203.6,626.6 217.9,656.0 229.4,651.6 239.2,661.5 249.0,655.8 272.7,666.6 276.4,676.1 281.4,674.8 286.6,666.9 296.4,657.3 310.8,616.6 314.6,670.9 319.8,678.2 325.2,672.3 328.5,643.8 331.2,643.0 334.0,631.2 336.4,621.7 345.9,623.7 347.5,634.5 348.4,668.0 349.3,640.0 350.2,664.0 350.9,646.0 352.0,676.7 357.0,658.5 364.8,719.4 377.5,715.5 380.6,730.5 390.1,724.2 396.4,706.8 402.7,706.0 411.4,717.1 417.2,688.6 425.5,709.5 429.0,686.2 437.1,615.8 445.8,709.1 453.8,719.4 459.0,708.8 468.8,720.5 481.4,712.6 494.5,719.6 501.0,708.6 508.4,710.5 514.7,694.3 521.8,681.5 527.8,694.3 534.6,699.1 540.6,684.9 565.3,623.7 571.9,538.9 592.4,591.6 594.5,526.6 602.1,516.8 610.5,502.7 620.2,526.8 630.3,543.2 640.4,517.9 657.2,554.2 672.0,539.4"/>
<g fill="#999999"><circle cx="83.4" cy="575.2" r="2.6"/><circle cx="91.2" cy="562.8" r="2.6"/><circle cx="98.5" cy="579.2" r="2.6"/><circle cx="193.2" cy="592.0" r="2.6"/><circle cx="203.6" cy="626.6" r="2.6"/><circle cx="217.9" cy="656.0" r="2.6"/><circle cx="229.4" cy="651.6" r="2.6"/><circle cx="239.2" cy="661.5" r="2.6"/><circle cx="249.0" cy="655.8" r="2.6"/><circle cx="272.7" cy="666.6" r="2.6"/><circle cx="276.4" cy="676.1" r="2.6"/><circle cx="281.4" cy="674.8" r="2.6"/><circle cx="286.6" cy="666.9" r="2.6"/><circle cx="296.4" cy="657.3" r="2.6"/><circle cx="310.8" cy="616.6" r="2.6"/><circle cx="314.6" cy="670.9" r="2.6"/><circle cx="319.8" cy="678.2" r="2.6"/><circle cx="325.2" cy="672.3" r="2.6"/><circle cx="328.5" cy="643.8" r="2.6"/><circle cx="331.2" cy="643.0" r="2.6"/><circle cx="334.0" cy="631.2" r="2.6"/><circle cx="336.4" cy="621.7" r="2.6"/><circle cx="345.9" cy="623.7" r="2.6"/><circle cx="347.5" cy="634.5" r="2.6"/><circle cx="348.4" cy="668.0" r="2.6"/><circle cx="349.3" cy="640.0" r="2.6"/><circle cx="350.2" cy="664.0" r="2.6"/><circle cx="350.9" cy="646.0" r="2.6"/><circle cx="352.0" cy="676.7" r="2.6"/><circle cx="357.0" cy="658.5" r="2.6"/><circle cx="364.8" cy="719.4" r="2.6"/><circle cx="377.5" cy="715.5" r="2.6"/><circle cx="380.6" cy="730.5" r="2.6"/><circle cx="390.1" cy="724.2" r="2.6"/><circle cx="396.4" cy="706.8" r="2.6"/><circle cx="402.7" cy="706.0" r="2.6"/><circle cx="411.4" cy="717.1" r="2.6"/><circle cx="417.2" cy="688.6" r="2.6"/><circle cx="425.5" cy="709.5" r="2.6"/><circle cx="429.0" cy="686.2" r="2.6"/><circle cx="437.1" cy="615.8" r="2.6"/><circle cx="445.8" cy="709.1" r="2.6"/><circle cx="453.8" cy="719.4" r="2.6"/><circle cx="459.0" cy="708.8" r="2.6"/><circle cx="468.8" cy="720.5" r="2.6"/><circle cx="481.4" cy="712.6" r="2.6"/><circle cx="494.5" cy="719.6" r="2.6"/><circle cx="501.0" cy="708.6" r="2.6"/><circle cx="508.4" cy="710.5" r="2.6"/><circle cx="514.7" cy="694.3" r="2.6"/><circle cx="521.8" cy="681.5" r="2.6"/><circle cx="527.8" cy="694.3" r="2.6"/><circle cx="534.6" cy="699.1" r="2.6"/><circle cx="540.6" cy="684.9" r="2.6"/><circle cx="565.3" cy="623.7" r="2.6"/><circle cx="571.9" cy="538.9" r="2.6"/><circle cx="592.4" cy="591.6" r="2.6"/><circle cx="594.5" cy="526.6" r="2.6"/><circle cx="602.1" cy="516.8" r="2.6"/><circle cx="610.5" cy="502.7" r="2.6"/><circle cx="620.2" cy="526.8" r="2.6"/><circle cx="630.3" cy="543.2" r="2.6"/><circle cx="640.4" cy="517.9" r="2.6"/><circle cx="657.2" cy="554.2" r="2.6"/><circle cx="672.0" cy="539.4" r="2.6"/></g>
<polyline fill="none" stroke="#000" stroke-width="2.1" stroke-linejoin="miter" stroke-miterlimit="3" stroke-linecap="round" points="314.3,632.7 317.4,624.8 335.6,638.0 343.2,650.9 345.9,667.2"/>
<g fill="#000"><circle cx="314.3" cy="632.7" r="2.5"/><circle cx="317.4" cy="624.8" r="2.5"/><circle cx="335.6" cy="638.0" r="2.5"/><circle cx="343.2" cy="650.9" r="2.5"/><circle cx="345.9" cy="667.2" r="2.5"/></g>
<polyline fill="none" stroke="#000" stroke-width="2.1" stroke-linejoin="miter" stroke-miterlimit="3" stroke-linecap="round" points="350.3,640.9 354.7,646.7 357.5,663.3 363.2,672.0 379.8,659.8 383.8,663.3 388.5,670.4 394.4,675.1 396.7,689.4 402.7,681.5 408.3,676.4 413.0,682.3 417.8,659.5 421.2,681.7 435.6,672.8 438.7,687.8 450.6,682.3 464.5,685.1 470.4,676.2"/>
<g fill="#000"><circle cx="350.3" cy="640.9" r="2.5"/><circle cx="354.7" cy="646.7" r="2.5"/><circle cx="357.5" cy="663.3" r="2.5"/><circle cx="363.2" cy="672.0" r="2.5"/><circle cx="379.8" cy="659.8" r="2.5"/><circle cx="383.8" cy="663.3" r="2.5"/><circle cx="388.5" cy="670.4" r="2.5"/><circle cx="394.4" cy="675.1" r="2.5"/><circle cx="396.7" cy="689.4" r="2.5"/><circle cx="402.7" cy="681.5" r="2.5"/><circle cx="408.3" cy="676.4" r="2.5"/><circle cx="413.0" cy="682.3" r="2.5"/><circle cx="417.8" cy="659.5" r="2.5"/><circle cx="421.2" cy="681.7" r="2.5"/><circle cx="435.6" cy="672.8" r="2.5"/><circle cx="438.7" cy="687.8" r="2.5"/><circle cx="450.6" cy="682.3" r="2.5"/><circle cx="464.5" cy="685.1" r="2.5"/><circle cx="470.4" cy="676.2" r="2.5"/></g>
<polyline fill="none" stroke="#ff6633" stroke-width="3.0" stroke-linejoin="miter" stroke-miterlimit="3" stroke-linecap="round" points="183.8,665.4 187.6,676.8 189.9,671.5 195.1,665.4 212.1,681.7 222.0,670.7 233.3,678.5 248.2,683.3 260.8,675.9 273.6,686.4 299.2,692.5 318.8,685.6 330.9,696.7 348.2,721.0 354.5,711.0 359.7,706.8 367.9,717.4 373.5,700.4 378.2,726.5 383.0,717.8 389.3,713.1 397.2,721.8 402.7,714.7 417.2,709.5 438.4,700.9 443.5,717.8 458.5,726.1 465.6,710.7 488.5,719.4 505.0,688.2 512.1,740.4 548.3,721.9 565.3,691.1 580.4,678.3 591.5,702.0"/>
<g fill="#ff6633"><path d="M178.9,665.4 L183.8,660.5 L188.7,665.4 L183.8,670.3Z"/><path d="M182.7,676.8 L187.6,671.9 L192.5,676.8 L187.6,681.7Z"/><path d="M185.0,671.5 L189.9,666.6 L194.8,671.5 L189.9,676.4Z"/><path d="M190.2,665.4 L195.1,660.5 L200.0,665.4 L195.1,670.3Z"/><path d="M207.2,681.7 L212.1,676.8 L217.0,681.7 L212.1,686.6Z"/><path d="M217.1,670.7 L222.0,665.8 L226.9,670.7 L222.0,675.6Z"/><path d="M228.4,678.5 L233.3,673.6 L238.2,678.5 L233.3,683.4Z"/><path d="M243.3,683.3 L248.2,678.4 L253.1,683.3 L248.2,688.2Z"/><path d="M255.9,675.9 L260.8,671.0 L265.7,675.9 L260.8,680.8Z"/><path d="M268.7,686.4 L273.6,681.5 L278.5,686.4 L273.6,691.3Z"/><path d="M294.3,692.5 L299.2,687.6 L304.1,692.5 L299.2,697.4Z"/><path d="M313.9,685.6 L318.8,680.7 L323.7,685.6 L318.8,690.5Z"/><path d="M326.0,696.7 L330.9,691.8 L335.8,696.7 L330.9,701.6Z"/><path d="M343.3,721.0 L348.2,716.1 L353.1,721.0 L348.2,725.9Z"/><path d="M349.6,711.0 L354.5,706.1 L359.4,711.0 L354.5,715.9Z"/><path d="M354.8,706.8 L359.7,701.9 L364.6,706.8 L359.7,711.7Z"/><path d="M363.0,717.4 L367.9,712.5 L372.8,717.4 L367.9,722.3Z"/><path d="M368.6,700.4 L373.5,695.5 L378.4,700.4 L373.5,705.3Z"/><path d="M373.3,726.5 L378.2,721.6 L383.1,726.5 L378.2,731.4Z"/><path d="M378.1,717.8 L383.0,712.9 L387.9,717.8 L383.0,722.7Z"/><path d="M384.4,713.1 L389.3,708.2 L394.2,713.1 L389.3,718.0Z"/><path d="M392.3,721.8 L397.2,716.9 L402.1,721.8 L397.2,726.7Z"/><path d="M397.8,714.7 L402.7,709.8 L407.6,714.7 L402.7,719.6Z"/><path d="M412.3,709.5 L417.2,704.6 L422.1,709.5 L417.2,714.4Z"/><path d="M433.5,700.9 L438.4,696.0 L443.3,700.9 L438.4,705.8Z"/><path d="M438.6,717.8 L443.5,712.9 L448.4,717.8 L443.5,722.7Z"/><path d="M453.6,726.1 L458.5,721.2 L463.4,726.1 L458.5,731.0Z"/><path d="M460.7,710.7 L465.6,705.8 L470.5,710.7 L465.6,715.6Z"/><path d="M483.6,719.4 L488.5,714.5 L493.4,719.4 L488.5,724.3Z"/><path d="M500.1,688.2 L505.0,683.3 L509.9,688.2 L505.0,693.1Z"/><path d="M507.2,740.4 L512.1,735.5 L517.0,740.4 L512.1,745.3Z"/><path d="M543.4,721.9 L548.3,717.0 L553.2,721.9 L548.3,726.8Z"/><path d="M560.4,691.1 L565.3,686.2 L570.2,691.1 L565.3,696.0Z"/><path d="M575.5,678.3 L580.4,673.4 L585.3,678.3 L580.4,683.2Z"/><path d="M586.6,702.0 L591.5,697.1 L596.4,702.0 L591.5,706.9Z"/></g>
<polyline fill="none" stroke="#990000" stroke-width="3.3" stroke-linejoin="miter" stroke-miterlimit="3" stroke-linecap="round" points="292.4,673.3 293.8,661.6 296.1,656.3 297.9,701.6 299.2,693.6 306.5,729.3 316.0,717.0 321.7,727.7 330.2,704.0 339.7,724.3 346.7,703.6 353.8,699.7 358.5,668.8 365.6,711.5 370.3,679.1 379.8,695.7 384.5,703.6 408.3,701.2 417.2,694.3 432.3,694.7 440.3,664.1"/>
<g fill="#990000"><path d="M287.3,673.3 L292.4,668.2 L297.5,673.3 L292.4,678.4Z"/><path d="M288.7,661.6 L293.8,656.5 L298.9,661.6 L293.8,666.7Z"/><path d="M291.0,656.3 L296.1,651.2 L301.2,656.3 L296.1,661.4Z"/><path d="M292.8,701.6 L297.9,696.5 L303.0,701.6 L297.9,706.7Z"/><path d="M294.1,693.6 L299.2,688.5 L304.3,693.6 L299.2,698.7Z"/><path d="M301.4,729.3 L306.5,724.2 L311.6,729.3 L306.5,734.4Z"/><path d="M310.9,717.0 L316.0,711.9 L321.1,717.0 L316.0,722.1Z"/><path d="M316.6,727.7 L321.7,722.6 L326.8,727.7 L321.7,732.8Z"/><path d="M325.1,704.0 L330.2,698.9 L335.3,704.0 L330.2,709.1Z"/><path d="M334.6,724.3 L339.7,719.2 L344.8,724.3 L339.7,729.4Z"/><path d="M341.6,703.6 L346.7,698.5 L351.8,703.6 L346.7,708.7Z"/><path d="M348.7,699.7 L353.8,694.6 L358.9,699.7 L353.8,704.8Z"/><path d="M353.4,668.8 L358.5,663.7 L363.6,668.8 L358.5,673.9Z"/><path d="M360.5,711.5 L365.6,706.4 L370.7,711.5 L365.6,716.6Z"/><path d="M365.2,679.1 L370.3,674.0 L375.4,679.1 L370.3,684.2Z"/><path d="M374.7,695.7 L379.8,690.6 L384.9,695.7 L379.8,700.8Z"/><path d="M379.4,703.6 L384.5,698.5 L389.6,703.6 L384.5,708.7Z"/><path d="M403.2,701.2 L408.3,696.1 L413.4,701.2 L408.3,706.3Z"/><path d="M412.1,694.3 L417.2,689.2 L422.3,694.3 L417.2,699.4Z"/><path d="M427.2,694.7 L432.3,689.6 L437.4,694.7 L432.3,699.8Z"/><path d="M435.2,664.1 L440.3,659.0 L445.4,664.1 L440.3,669.2Z"/></g>
<path fill="none" stroke="#000" stroke-width="2.1" d="M77.5,27.2L77.5,171.0M674.0,27.2L674.0,171.0M76.5,28.2L675.0,28.2M76.5,170.0L675.0,170.0M66.0,28.2L77.5,28.2M66.0,75.5L77.5,75.5M66.0,122.7L77.5,122.7M66.0,170.0L77.5,170.0M114.5,28.2L114.5,33.7M114.5,170.0L114.5,164.5M151.8,28.2L151.8,38.7M151.8,170.0L151.8,159.5M189.1,28.2L189.1,33.7M189.1,170.0L189.1,164.5M226.4,28.2L226.4,38.7M226.4,170.0L226.4,159.5M263.7,28.2L263.7,33.7M263.7,170.0L263.7,164.5M301.0,28.2L301.0,38.7M301.0,170.0L301.0,159.5M338.3,28.2L338.3,33.7M338.3,170.0L338.3,164.5M375.6,28.2L375.6,38.7M375.6,170.0L375.6,159.5M412.9,28.2L412.9,33.7M412.9,170.0L412.9,164.5M450.2,28.2L450.2,38.7M450.2,170.0L450.2,159.5M487.5,28.2L487.5,33.7M487.5,170.0L487.5,164.5M524.8,28.2L524.8,38.7M524.8,170.0L524.8,159.5M562.1,28.2L562.1,33.7M562.1,170.0L562.1,164.5M599.4,28.2L599.4,38.7M599.4,170.0L599.4,159.5M636.7,28.2L636.7,33.7M636.7,170.0L636.7,164.5M77.5,196.0L77.5,467.3M674.0,196.0L674.0,467.3M76.5,197.0L675.0,197.0M76.5,466.3L675.0,466.3M66.0,466.3L77.5,466.3M66.0,406.4L77.5,406.4M66.0,346.6L77.5,346.6M66.0,286.7L77.5,286.7M66.0,226.9L77.5,226.9M71.5,436.4L77.5,436.4M71.5,376.5L77.5,376.5M71.5,316.6L77.5,316.6M71.5,256.8L77.5,256.8M71.5,196.9L77.5,196.9M114.5,197.0L114.5,202.5M114.5,466.3L114.5,460.8M151.8,197.0L151.8,207.5M151.8,466.3L151.8,455.8M189.1,197.0L189.1,202.5M189.1,466.3L189.1,460.8M226.4,197.0L226.4,207.5M226.4,466.3L226.4,455.8M263.7,197.0L263.7,202.5M263.7,466.3L263.7,460.8M301.0,197.0L301.0,207.5M301.0,466.3L301.0,455.8M338.3,197.0L338.3,202.5M338.3,466.3L338.3,460.8M375.6,197.0L375.6,207.5M375.6,466.3L375.6,455.8M412.9,197.0L412.9,202.5M412.9,466.3L412.9,460.8M450.2,197.0L450.2,207.5M450.2,466.3L450.2,455.8M487.5,197.0L487.5,202.5M487.5,466.3L487.5,460.8M524.8,197.0L524.8,207.5M524.8,466.3L524.8,455.8M562.1,197.0L562.1,202.5M562.1,466.3L562.1,460.8M599.4,197.0L599.4,207.5M599.4,466.3L599.4,455.8M636.7,197.0L636.7,202.5M636.7,466.3L636.7,460.8M77.5,491.4L77.5,763.0M674.0,491.4L674.0,763.0M76.5,492.4L675.0,492.4M76.5,762.0L675.0,762.0M66.0,741.5L77.5,741.5M66.0,700.0L77.5,700.0M66.0,658.5L77.5,658.5M66.0,616.9L77.5,616.9M66.0,575.4L77.5,575.4M66.0,533.9L77.5,533.9M66.0,492.4L77.5,492.4M71.5,720.7L77.5,720.7M71.5,679.2L77.5,679.2M71.5,637.7L77.5,637.7M71.5,596.2L77.5,596.2M71.5,554.7L77.5,554.7M71.5,513.1L77.5,513.1M114.5,492.4L114.5,497.9M114.5,762.0L114.5,756.5M151.8,492.4L151.8,502.9M151.8,762.0L151.8,751.5M189.1,492.4L189.1,497.9M189.1,762.0L189.1,756.5M226.4,492.4L226.4,502.9M226.4,762.0L226.4,751.5M263.7,492.4L263.7,497.9M263.7,762.0L263.7,756.5M301.0,492.4L301.0,502.9M301.0,762.0L301.0,751.5M338.3,492.4L338.3,497.9M338.3,762.0L338.3,756.5M375.6,492.4L375.6,502.9M375.6,762.0L375.6,751.5M412.9,492.4L412.9,497.9M412.9,762.0L412.9,756.5M450.2,492.4L450.2,502.9M450.2,762.0L450.2,751.5M487.5,492.4L487.5,497.9M487.5,762.0L487.5,756.5M524.8,492.4L524.8,502.9M524.8,762.0L524.8,751.5M562.1,492.4L562.1,497.9M562.1,762.0L562.1,756.5M599.4,492.4L599.4,502.9M599.4,762.0L599.4,751.5M636.7,492.4L636.7,497.9M636.7,762.0L636.7,756.5"/>
<text x="77.2" y="15.6" font-size="22" text-anchor="middle" fill="#000" >6</text>
<text x="77.2" y="789.9" font-size="22" text-anchor="middle" fill="#000" >6</text>
<text x="151.8" y="15.6" font-size="22" text-anchor="middle" fill="#000" >8</text>
<text x="151.8" y="789.9" font-size="22" text-anchor="middle" fill="#000" >8</text>
<text x="226.4" y="15.6" font-size="22" text-anchor="middle" fill="#000" >10</text>
<text x="226.4" y="789.9" font-size="22" text-anchor="middle" fill="#000" >10</text>
<text x="301.0" y="15.6" font-size="22" text-anchor="middle" fill="#000" >12</text>
<text x="301.0" y="789.9" font-size="22" text-anchor="middle" fill="#000" >12</text>
<text x="375.6" y="15.6" font-size="22" text-anchor="middle" fill="#000" >14</text>
<text x="375.6" y="789.9" font-size="22" text-anchor="middle" fill="#000" >14</text>
<text x="450.2" y="15.6" font-size="22" text-anchor="middle" fill="#000" >16</text>
<text x="450.2" y="789.9" font-size="22" text-anchor="middle" fill="#000" >16</text>
<text x="524.8" y="15.6" font-size="22" text-anchor="middle" fill="#000" >18</text>
<text x="524.8" y="789.9" font-size="22" text-anchor="middle" fill="#000" >18</text>
<text x="599.4" y="15.6" font-size="22" text-anchor="middle" fill="#000" >20</text>
<text x="599.4" y="789.9" font-size="22" text-anchor="middle" fill="#000" >20</text>
<text x="674.0" y="15.6" font-size="22" text-anchor="middle" fill="#000" >22</text>
<text x="674.0" y="789.9" font-size="22" text-anchor="middle" fill="#000" >22</text>
<text x="59.5" y="36.1" font-size="22" text-anchor="end" fill="#000" >1</text>
<text x="59.5" y="83.4" font-size="22" text-anchor="end" fill="#000" >2</text>
<text x="59.5" y="130.6" font-size="22" text-anchor="end" fill="#000" >3</text>
<text x="59.5" y="177.9" font-size="22" text-anchor="end" fill="#000" >4</text>
<text x="59.5" y="474.2" font-size="22" text-anchor="end" fill="#000" >0</text>
<text x="59.5" y="414.3" font-size="22" text-anchor="end" fill="#000" >2</text>
<text x="59.5" y="354.5" font-size="22" text-anchor="end" fill="#000" >4</text>
<text x="59.5" y="294.6" font-size="22" text-anchor="end" fill="#000" >6</text>
<text x="59.5" y="234.8" font-size="22" text-anchor="end" fill="#000" >8</text>
<text x="59.5" y="749.4" font-size="22" text-anchor="end" fill="#000" >4</text>
<text x="59.5" y="707.9" font-size="22" text-anchor="end" fill="#000" >6</text>
<text x="59.5" y="666.4" font-size="22" text-anchor="end" fill="#000" >8</text>
<text x="59.5" y="624.8" font-size="22" text-anchor="end" fill="#000" >10</text>
<text x="59.5" y="583.3" font-size="22" text-anchor="end" fill="#000" >12</text>
<text x="59.5" y="541.8" font-size="22" text-anchor="end" fill="#000" >14</text>
<text x="59.5" y="500.3" font-size="22" text-anchor="end" fill="#000" >16</text>
<text x="93.7" y="62.0" font-size="20" text-anchor="start" fill="#000" font-weight="bold" stroke="#000" stroke-width="0.35" textLength="26.4" lengthAdjust="spacingAndGlyphs">(a)</text>
<text x="93.7" y="233.3" font-size="20" text-anchor="start" fill="#000" font-weight="bold" stroke="#000" stroke-width="0.35" textLength="26.9" lengthAdjust="spacingAndGlyphs">(b)</text>
<text x="93.7" y="527.0" font-size="20" text-anchor="start" fill="#000" font-weight="bold" stroke="#000" stroke-width="0.35" textLength="25.7" lengthAdjust="spacingAndGlyphs">(c)</text>
<text x="367.4" y="144.8" font-size="22.2" text-anchor="middle" fill="#000" >MMCT</text>
<text x="443.6" y="144.8" font-size="22.2" text-anchor="middle" fill="#000" >MCO</text>
<path fill="none" stroke="#000" stroke-width="2.3" d="M323,153.3H481.5"/>
<path fill="none" stroke="#000" stroke-width="2.9" stroke-linejoin="miter" stroke-miterlimit="10" d="M333,147.3L323.2,153.3L333,159.3 M393.9,147.3L403.1,153.3L393.9,159.3 M413.7,147.3L404.5,153.3L413.7,159.3 M471.5,147.3L481.3,153.3L471.5,159.3"/>
<path fill="#000" d="M634.4,281.7H647L641.6,392.5H640.6Z"/>
<path fill="#000" d="M634.4,713H647L641.2,601.5H640.2Z"/>
<text x="621.6" y="268.4" font-size="22.6" text-anchor="start">+O<tspan font-size="13.5" dy="5.3">2</tspan></text>
<text x="624.5" y="420.2" font-size="22.6" text-anchor="start">-O<tspan font-size="13.5" dy="5.3">2</tspan></text>
<text x="624.5" y="588.0" font-size="22.6" text-anchor="start">-O<tspan font-size="13.5" dy="5.3">2</tspan></text>
<text x="621.6" y="740.0" font-size="22.6" text-anchor="start">+O<tspan font-size="13.5" dy="5.3">2</tspan></text>
<text transform="translate(18.4,148.9) rotate(-90) scale(1.028,1)" font-size="25">δ<tspan font-size="14.5" dy="-9">18</tspan><tspan dy="9">O (‰)</tspan></text>
<text transform="translate(37.2,176.8) rotate(-90)" font-size="15">Westerhold et al., 2020</text>
<text transform="translate(26.4,423.6) rotate(-90)" font-size="25.2">I/Ca (µmol mol<tspan font-size="14.5" dy="-9">-1</tspan><tspan dy="9">)</tspan></text>
<text transform="translate(24.0,736.4) rotate(-90)" font-size="25.1">FB-δ<tspan font-size="14.5" dy="-9">15</tspan><tspan dy="9">N (‰ </tspan><tspan font-style="italic">vs.</tspan> air)</text>
<text x="375.0" y="817.2" font-size="24.6" text-anchor="middle" fill="#000" >Age (Ma)</text>
<text x="158.8" y="859.2" font-size="22" text-anchor="start" fill="#990000" >Indian Ocean</text>
<text x="331.0" y="859.2" font-size="22.3" text-anchor="start" fill="#990000" >730 (this study)</text>
<text x="331.0" y="884.3" font-size="22.3" text-anchor="start" fill="#ff6600" >714 (this study)</text>
<text x="158.8" y="919.4" font-size="22" text-anchor="start" fill="#000" >Pacific Ocean</text>
<text x="331.0" y="919.4" font-size="22.3" text-anchor="start" fill="#000" >845 (Hess et al., 2023)</text>
<text x="331.0" y="944.6" font-size="22.3" text-anchor="start" fill="#999999" >872 (Auderset et al., 2022)</text>
<g fill="#990000"><path d="M305.5,852.5 L314.0,844.0 L322.5,852.5 L314.0,861.0Z"/></g>
<g fill="#ff6600"><path d="M305.5,881.1 L314.0,872.6 L322.5,881.1 L314.0,889.6Z"/></g>
<g fill="#000"><circle cx="314.0" cy="911.3" r="8.2"/></g>
<g fill="#999999"><circle cx="314.0" cy="936.8" r="8.2"/></g>
</svg></body></html>
